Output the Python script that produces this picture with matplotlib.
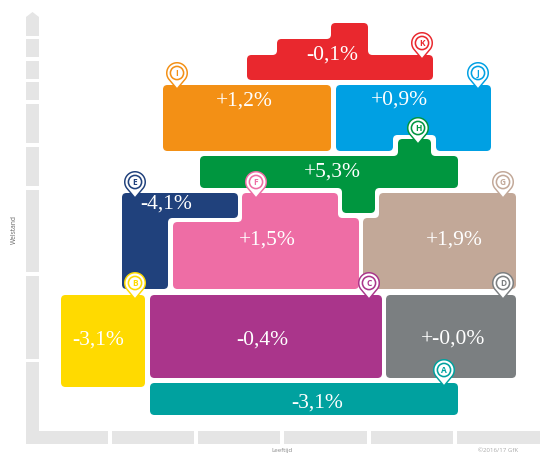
import matplotlib
matplotlib.use("Agg")
import matplotlib.pyplot as plt
from matplotlib.path import Path
from matplotlib.patches import PathPatch, Circle, Rectangle, Polygon
import numpy as np

# data
letters = ["A", "B", "C", "D", "E", "F", "G", "H", "I", "J", "K"]
values = ["-3,1%", "-3,1%", "-0,4%", "+-0,0%", "-4,1%", "+1,5%", "+1,9%", "+5,3%", "+1,2%", "+0,9%", "-0,1%"]
colors = ["#00A19F", "#FFDA00", "#AA358B", "#7B7F81", "#20417C", "#EE6DA5",
          "#C2A898", "#00963F", "#F39015", "#00A0E3", "#E9282E"]
x_label = "Leeftijd"
y_label = "Welstand"
credit = "©2016/17 GfK"

# layout, in chart pixels
outlines = [
    [(150, 383), (458, 383), (458, 415), (150, 415)],
    [(61, 295), (145, 295), (145, 387), (61, 387)],
    [(150, 295), (382, 295), (382, 378), (150, 378)],
    [(386, 295), (516, 295), (516, 378), (386, 378)],
    [(122, 193), (238, 193), (238, 218), (168, 218), (168, 289), (122, 289)],
    [(173, 222), (242, 222), (242, 193), (338, 193), (338, 218), (359, 218), (359, 289), (173, 289)],
    [(363, 218), (379, 218), (379, 193), (516, 193), (516, 289), (363, 289)],
    [(200, 156), (398, 156), (398, 139), (431, 139), (431, 156), (458, 156), (458, 188),
     (375, 188), (375, 213), (342, 213), (342, 188), (200, 188)],
    [(163, 85), (331, 85), (331, 151), (163, 151)],
    [(336, 85), (491, 85), (491, 151), (436, 151), (436, 135), (393, 135), (393, 151), (336, 151)],
    [(247, 55), (277, 55), (277, 39), (331, 39), (331, 23), (368, 23), (368, 55), (433, 55),
     (433, 80), (247, 80)],
]
label_xy = [(317, 402), (98, 339), (262, 339), (453, 338), (166, 203), (267, 239),
            (454, 239), (332, 171), (244, 100), (399, 99), (332, 54)]
pin_xy = [(444, 370), (135, 283), (369, 283), (503, 283), (135, 182), (256, 182),
          (503, 182), (418, 128), (177, 73), (478, 73), (422, 43)]
y_segments = [(39, 57), (61, 79), (82, 100), (104, 143), (147, 186), (190, 272), (276, 359), (362, 444)]
x_segments = [(39, 108), (112, 194), (198, 280), (284, 367), (371, 453), (457, 540)]
AXIS = "#E5E5E5"


def rounded(points, r=4.5):
    verts, codes = [], []
    n = len(points)
    for i, p in enumerate(points):
        p = np.array(p, float)
        a = np.array(points[i - 1], float)
        b = np.array(points[(i + 1) % n], float)
        ra = min(r, np.linalg.norm(a - p) / 2)
        rb = min(r, np.linalg.norm(b - p) / 2)
        s = p + (a - p) / np.linalg.norm(a - p) * ra
        e = p + (b - p) / np.linalg.norm(b - p) * rb
        verts.append(s)
        codes.append(Path.MOVETO if i == 0 else Path.LINETO)
        verts += [p, e]
        codes += [Path.CURVE3, Path.CURVE3]
    verts.append(verts[0])
    codes.append(Path.CLOSEPOLY)
    return Path(verts, codes)


def teardrop(cx, cy, r, tip):
    t = np.linspace(np.radians(-35), np.radians(215), 60)
    xs = cx + r * np.cos(t)
    ys = cy - r * np.sin(t)
    return list(zip(xs, ys)) + [(cx, tip)]


fig = plt.figure(figsize=(5.4, 4.54), dpi=100)
ax = fig.add_axes([0, 0, 1, 1])
ax.set_xlim(0, 540)
ax.set_ylim(454, 0)
ax.axis("off")

# axes as grey segments
ax.add_patch(Polygon([(26, 36), (26, 17), (32.5, 12), (39, 17), (39, 36)], fc=AXIS, ec="none"))
for y0, y1 in y_segments:
    ax.add_patch(Rectangle((26, y0), 13, y1 - y0, fc=AXIS, ec="none"))
for x0, x1 in x_segments:
    ax.add_patch(Rectangle((x0, 431), x1 - x0, 13, fc=AXIS, ec="none"))

ax.text(14, 230, y_label, rotation=90, ha="center", va="center", fontsize=4.8,
        color="#666666", family="Open Sans")
ax.text(282, 453.2, x_label, ha="center", va="bottom", fontsize=4.4, color="#888888", family="Open Sans")
ax.text(498, 453.2, credit, ha="center", va="bottom", fontsize=4.4, color="#AAAAAA", family="Open Sans")

for outline, col in zip(outlines, colors):
    ax.add_patch(PathPatch(rounded(outline), fc=col, ec="none", zorder=2))

for (x, y), v in zip(label_xy, values):
    ax.text(x, y + 1.5, v, ha="center", va="center", color="white", fontsize=15.5,
            family="Liberation Serif", zorder=3)

for (x, y), col, L in zip(pin_xy, colors, letters):
    tip = y + 17
    ax.add_patch(Polygon(teardrop(x, y, 11, tip), fc=col, ec="none", zorder=4))
    ax.add_patch(Polygon(teardrop(x, y, 9.5, tip - 2.2), fc="white", ec="none", zorder=5))
    ax.add_patch(Circle((x, y), 7.4, fc=col, ec="none", zorder=6))
    ax.add_patch(Circle((x, y), 5.8, fc="white", ec="none", zorder=7))
    ax.text(x, y + 0.2, L, ha="center", va="center", fontsize=6, fontweight="bold", color=col,
            family="Open Sans", zorder=8)

fig.savefig("out.png", dpi=100)
